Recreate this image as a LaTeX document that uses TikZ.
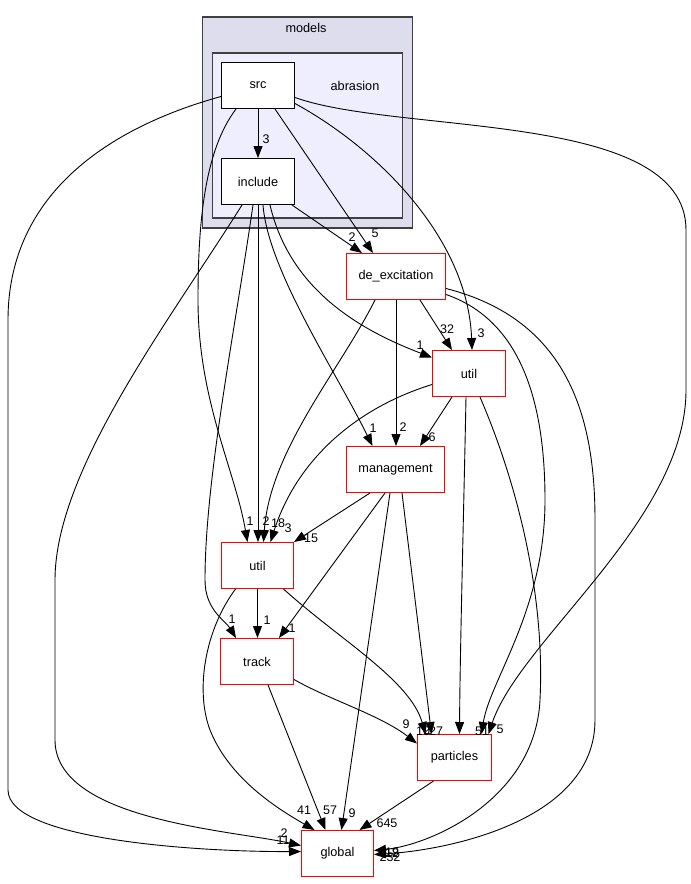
\documentclass[tikz,border=0pt]{standalone}
\usepackage{fontspec}
\setmainfont{Liberation Sans}
\usetikzlibrary{arrows.meta}
\definecolor{modfill}{HTML}{DDDDEE}
\definecolor{absfill}{HTML}{EEEEFF}
\definecolor{clborder}{HTML}{404040}
\begin{document}
\begin{tikzpicture}[x=1pt,y=-1pt,
  cluster/.style={draw=clborder,line width=1.5pt,anchor=north west,inner sep=0pt},
  dirbox/.style={draw=red,line width=1pt,fill=white,minimum height=46pt,inner sep=0pt,font=\fontsize{12.7}{15}\selectfont},
  srcbox/.style={draw=black,line width=1pt,fill=white,minimum width=73pt,minimum height=46pt,inner sep=0pt,font=\fontsize{12.7}{15}\selectfont},
  lbl/.style={inner sep=0pt,font=\fontsize{12.5}{14}\selectfont},
  cllbl/.style={inner sep=0pt,font=\fontsize{12.7}{15}\selectfont},
  dep/.style={draw=black,line width=0.9pt,-{Triangle[length=12pt,width=9pt]}}
]
\useasboundingbox (0,0) rectangle (691,884);
% clusters
\node[cluster,fill=modfill,minimum width=210pt,minimum height=211pt] (models) at (201.5,16) {};
\node[cllbl] (modelslbl) at (306,28) {models};
\node[cluster,fill=absfill,minimum width=190pt,minimum height=165pt] (abr) at (211.5,52) {};
\node[cllbl] (abrlbl) at (355,86) {abrasion};
% nodes
\node[srcbox] (src) at (258,85.5) {src};
\node[srcbox] (include) at (258,181.5) {include};
\node[dirbox,minimum width=99pt] (dex) at (396,276.5) {de\_excitation};
\node[dirbox,minimum width=73pt] (utilU) at (469,373.5) {util};
\node[dirbox,minimum width=98pt] (mgmt) at (395.5,469.5) {management};
\node[dirbox,minimum width=72pt] (utilL) at (257.5,565.5) {util};
\node[dirbox,minimum width=73pt] (track) at (257,661.5) {track};
\node[dirbox,minimum width=74pt] (particles) at (454.5,757.5) {particles};
\node[dirbox,minimum width=72pt] (global) at (337.5,853.5) {global};
% edges from src
\draw[dep] (src.south) -- (include.north);
\draw[dep] ([xshift=17pt]src.south) -- ([xshift=-23pt]dex.north);
\draw[dep] ([yshift=-18pt]src.east) .. controls (380,150) and (468,240) .. ([xshift=3pt]utilU.north);
\draw[dep] ([yshift=-12pt]src.east) .. controls (400,135) and (686,110) .. (686,230) -- (686,390) .. controls (686,520) and (520,640) .. ([xshift=34pt]particles.north);
\draw[dep] ([yshift=-11pt]src.west) .. controls (100,130) and (8,200) .. (8,320) -- (8,790) .. controls (8,840) and (200,852) .. ([yshift=2pt]global.west);
\draw[dep] ([xshift=-22pt]src.south) .. controls (205,150) and (198,220) .. (198,300) .. controls (198,400) and (235,470) .. ([xshift=-10pt]utilL.north);
% edges from include
\draw[dep] ([xshift=34pt]include.south) -- ([xshift=-34pt]dex.north);
\draw[dep] ([xshift=-16pt]include.south) .. controls (170,320) and (55,470) .. (55,580) -- (55,740) .. controls (55,820) and (230,830) .. ([yshift=8pt]global.west);
\draw[dep] ([xshift=-5pt]include.south) .. controls (235,330) and (205,480) .. (205,580) .. controls (205,610) and (225,620) .. ([xshift=-21pt]track.north);
\draw[dep] (include.south) -- ([xshift=0.5pt]utilL.north);
\draw[dep] ([xshift=5pt]include.south) .. controls (268,270) and (335,370) .. ([xshift=-23pt]mgmt.north);
\draw[dep] ([xshift=12pt]include.south) .. controls (290,290) and (360,330) .. ([yshift=16pt]utilU.west);
% edges from de_excitation
\draw[dep] ([xshift=-21pt]dex.south) .. controls (340,370) and (270,450) .. ([xshift=6pt]utilL.north);
\draw[dep] (dex.south) -- ([xshift=0.5pt]mgmt.north);
\draw[dep] ([xshift=24pt]dex.south) -- ([xshift=-17pt]utilU.north);
\draw[dep] ([yshift=-18pt]dex.east) .. controls (520,320) and (545,400) .. (545,500) .. controls (545,610) and (490,680) .. ([xshift=27pt]particles.north);
\draw[dep] ([yshift=-12pt]dex.east) .. controls (570,320) and (595,420) .. (595,520) -- (595,720) .. controls (595,820) and (450,850) .. ([yshift=-1pt]global.east);
% edges from upper util
\draw[dep] ([xshift=-17pt]utilU.south) -- ([xshift=24.5pt]mgmt.north);
\draw[dep] ([yshift=-11pt]utilU.west) .. controls (350,410) and (295,465) .. ([xshift=13pt]utilL.north);
\draw[dep] ([xshift=-3pt]utilU.south) .. controls (464,500) and (460,650) .. ([xshift=5pt]particles.north);
\draw[dep] ([xshift=11pt]utilU.south) .. controls (520,490) and (545,600) .. (540,700) .. controls (535,800) and (430,845) .. ([yshift=3pt]global.east);
% edges from management
\draw[dep] ([xshift=-25.5pt]mgmt.south) -- (utilL.north east);
\draw[dep] ([xshift=-10.5pt]mgmt.south) -- ([xshift=22pt]track.north);
\draw[dep] ([xshift=6.5pt]mgmt.south) -- ([xshift=-23pt]particles.north);
\draw[dep] ([xshift=-5.5pt]mgmt.south) -- ([xshift=4pt]global.north);
% edges from lower util
\draw[dep] (utilL.south) -- ([xshift=0.5pt]track.north);
\draw[dep] ([xshift=-22pt]utilL.south) .. controls (205,630) and (195,690) .. (210,730) .. controls (230,780) and (280,810) .. ([xshift=-23pt]global.north);
\draw[dep] ([xshift=26pt]utilL.south) .. controls (340,640) and (410,680) .. ([xshift=-29pt]particles.north);
% edges from track
\draw[dep] ([yshift=-18pt]track.east) .. controls (330,700) and (380,715) .. ([yshift=14pt]particles.west);
\draw[dep] ([xshift=11pt]track.south) -- ([xshift=-12pt]global.north);
% particles
\draw[dep] ([xshift=-21pt]particles.south) -- ([xshift=22pt]global.north);
% labels
\node[lbl] (a1) at (266,139) {3};
\node[lbl] (a2) at (375,233) {5};
\node[lbl] (a3) at (352,237) {2};
\node[lbl] (a4) at (481,333) {3};
\node[lbl] (a5) at (447,329) {32};
\node[lbl] (a6) at (420,345) {1};
\node[lbl] (a7) at (373,428) {1};
\node[lbl] (a8) at (403,427) {2};
\node[lbl] (a9) at (432,437) {6};
\node[lbl] (a10) at (250,521) {1};
\node[lbl] (a11) at (266,521) {2};
\node[lbl] (a12) at (278,523) {18};
\node[lbl] (a13) at (288,528) {3};
\node[lbl] (a14) at (311,538) {15};
\node[lbl] (a15) at (232,619) {1};
\node[lbl] (a16) at (267,620) {1};
\node[lbl] (a17) at (292,628) {1};
\node[lbl] (a18) at (406,724) {9};
\node[lbl] (a19) at (423,731) {10};
\node[lbl] (a20) at (427,730) {2};
\node[lbl] (a21) at (436,731) {27};
\node[lbl] (a22) at (482,731) {51};
\node[lbl] (a23) at (500,729) {5};
\node[lbl] (a24) at (304,810) {41};
\node[lbl] (a25) at (330,810) {57};
\node[lbl] (a26) at (352,813) {9};
\node[lbl] (a27) at (387,823) {645};
\node[lbl] (a28) at (284,833) {2};
\node[lbl] (a29) at (283,840) {11};
\node[lbl] (a30) at (392,852) {19};
\node[lbl] (a31) at (392,853) {12};
\node[lbl] (a32) at (390,857) {232};
\end{tikzpicture}
\end{document}
